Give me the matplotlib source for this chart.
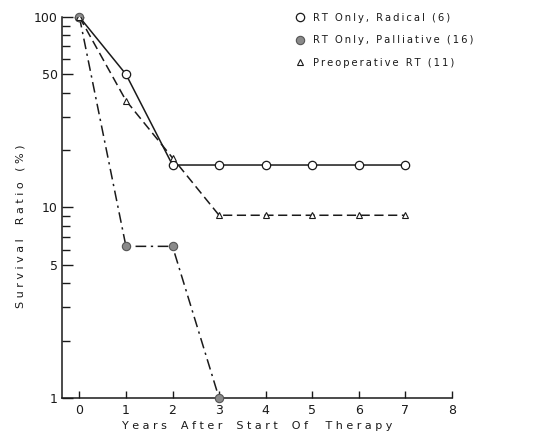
import numpy as np
import matplotlib.pyplot as plt
from matplotlib.lines import Line2D
from matplotlib.ticker import FixedLocator, NullFormatter

# survival data (% alive at each year after start of therapy)
years = [0, 1, 2, 3, 4, 5, 6, 7]
radical = [100, 50, 16.7, 16.7, 16.7, 16.7, 16.7, 16.7]
palliative_years = [0, 1, 2, 3]
palliative = [100, 6.25, 6.25, 1]
preop = [100, 36.4, 18.2, 9.1, 9.1, 9.1, 9.1, 9.1]

labels = ["RT Only, Radical (6)", "RT Only, Palliative (16)", "Preoperative RT (11)"]
ink = "#1a1a1a"


def spaced(s):
    # widen the lettering a bit with thin spaces
    return "\u2009".join(s)


fig = plt.figure(figsize=(5.36, 4.34), dpi=100)
ax = fig.add_axes([0.116, 0.083, 0.727, 0.878])

ax.plot(years, radical, color=ink, lw=1.1, ls="-", marker="o", ms=6,
        mfc="white", mec=ink, mew=0.9, zorder=3)
ax.plot(palliative_years, palliative, color=ink, lw=1.1, ls=(0, (7, 3, 1.5, 3)),
        marker="o", ms=6, mfc="#8a8a8a", mec="#555555", mew=0.8, zorder=3,
        clip_on=False)
ax.plot(years, preop, color=ink, lw=1.1, ls=(0, (6, 3)), marker="^", ms=5,
        mfc="white", mec=ink, mew=0.8, zorder=3)

ax.set_yscale("log")
ax.set_ylim(1, 100)
ax.set_xlim(-0.37, 8)

ax.yaxis.set_major_locator(FixedLocator([1, 5, 10, 50, 100]))
ax.set_yticklabels(["1", "5", "10", "50", "100"])
ax.yaxis.set_minor_locator(FixedLocator([2, 3, 4, 6, 7, 8, 9, 20, 30, 40, 60, 70, 80, 90]))
ax.yaxis.set_minor_formatter(NullFormatter())
ax.set_xticks(range(0, 9))

ax.tick_params(axis="y", which="major", direction="in", length=8, width=1.0,
               labelsize=9, colors=ink, pad=3)
ax.tick_params(axis="y", which="minor", direction="in", length=6, width=1.0, colors=ink)
ax.tick_params(axis="x", which="major", direction="in", length=5, width=1.0,
               labelsize=9, colors=ink, pad=4)

for side in ["top", "right"]:
    ax.spines[side].set_visible(False)
for side in ["left", "bottom"]:
    ax.spines[side].set_color(ink)
    ax.spines[side].set_linewidth(1.1)

ax.set_xlabel("Y e a r s    A f t e r    S t a r t    O f     T h e r a p y",
              fontsize=8, color=ink, labelpad=3)
ax.set_ylabel("S u r v i v a l    R a t i o   ( % )", fontsize=8, color=ink)
ax.yaxis.set_label_coords(-0.095, 0.45)

handles = [
    Line2D([], [], ls="none", marker="o", ms=6, mfc="white", mec=ink, mew=0.9),
    Line2D([], [], ls="none", marker="o", ms=6, mfc="#8a8a8a", mec="#555555", mew=0.8),
    Line2D([], [], ls="none", marker="^", ms=5, mfc="white", mec=ink, mew=0.8),
]
leg = ax.legend(handles, [spaced(s) for s in labels], loc="upper left",
                bbox_to_anchor=(0.575, 1.035), frameon=False, fontsize=7.2,
                handlelength=0.9, handletextpad=0.9, labelspacing=1.25,
                labelcolor=ink)

fig.savefig("out.png", dpi=100)
